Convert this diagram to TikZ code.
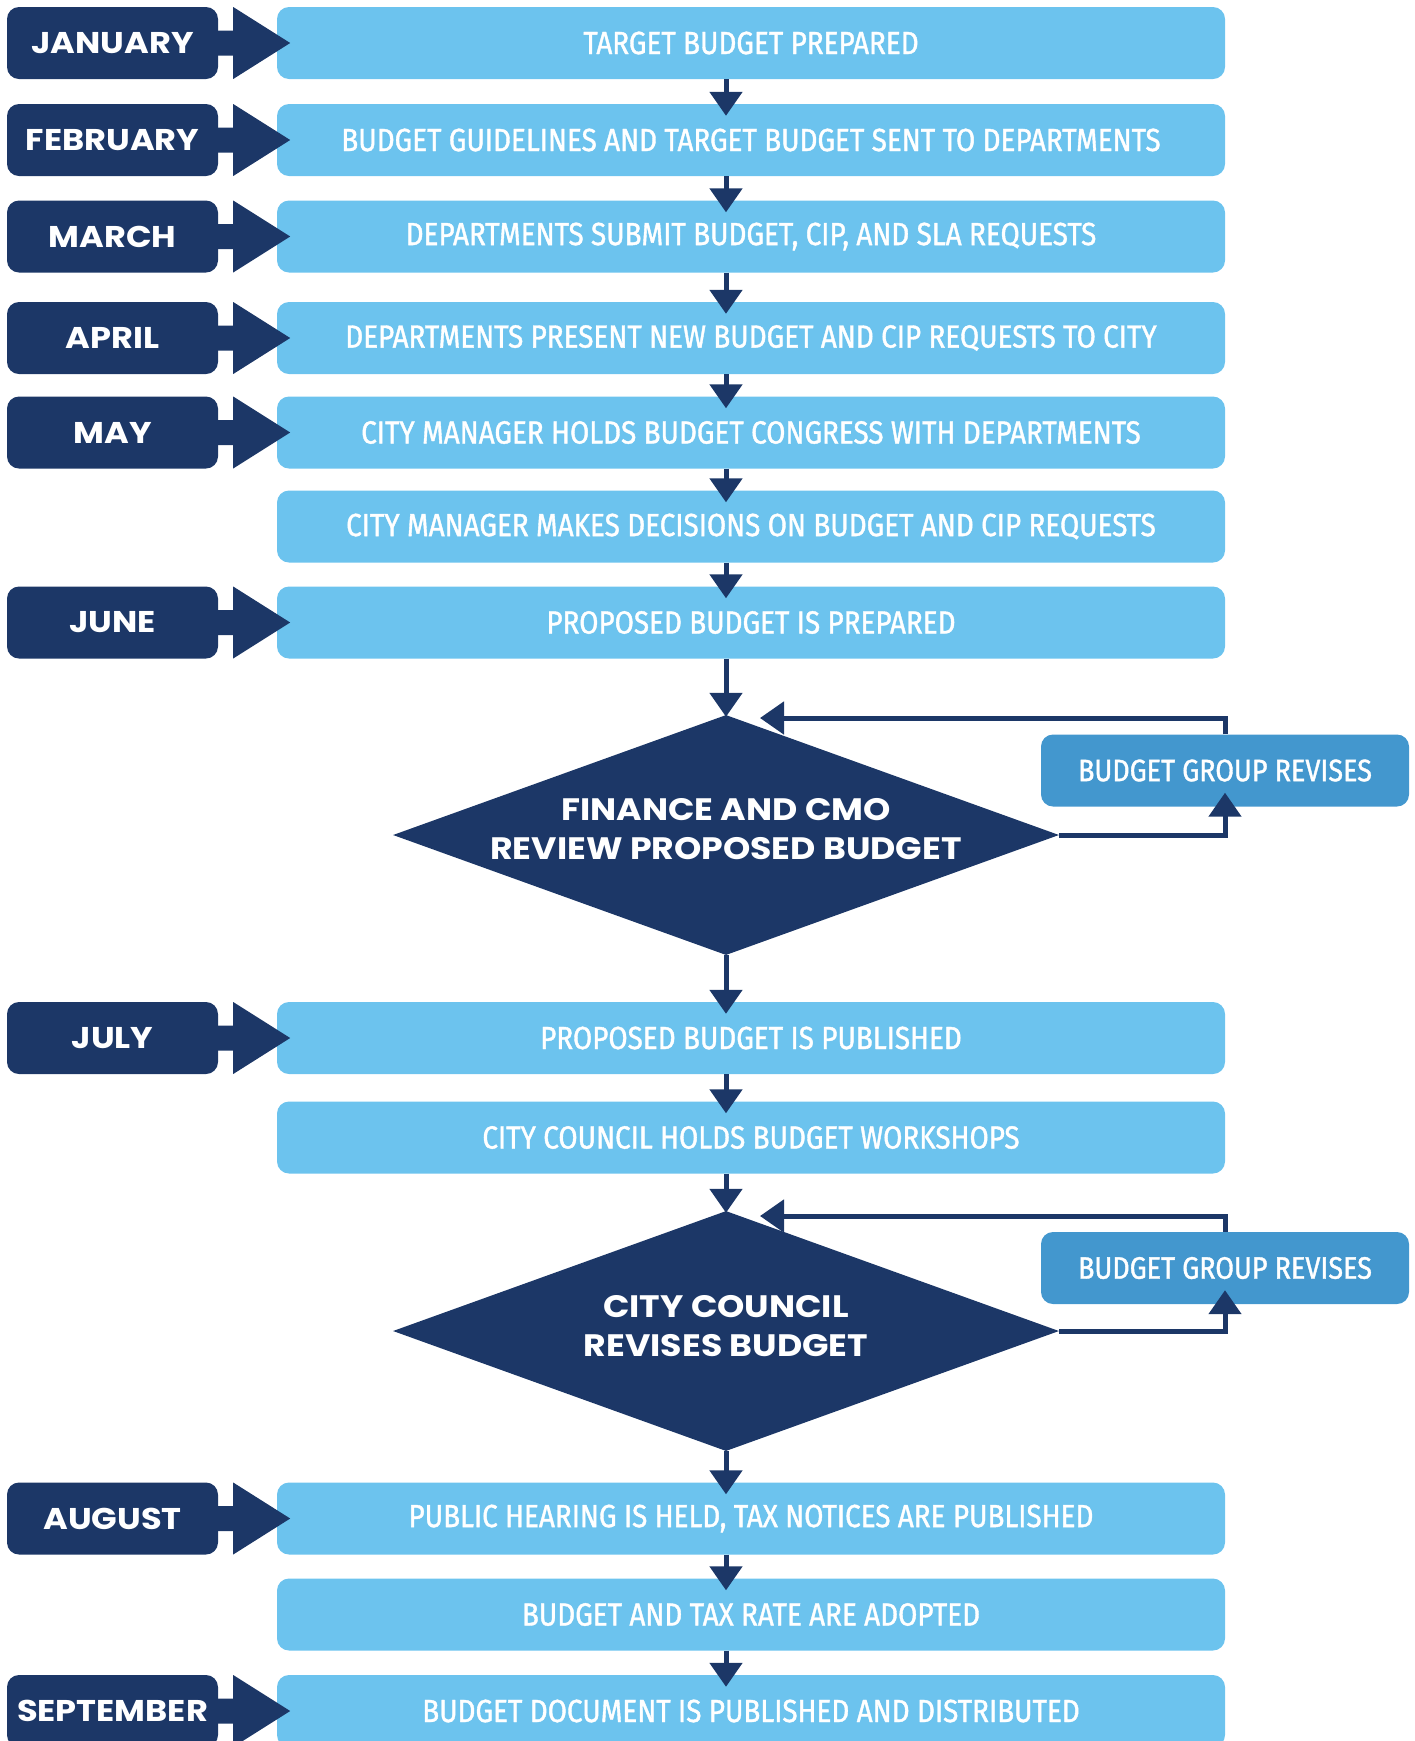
\documentclass[tikz,border=0pt]{standalone}
\usepackage{fontspec}
\usetikzlibrary{arrows.meta,calc,shapes.geometric}
\newfontfamily\monthfont[FakeStretch=1.12]{Poppins}
\newfontfamily\boxfont[FakeStretch=0.87,FakeBold=1.2]{Fira Sans}
\definecolor{navy}{RGB}{28,55,103}
\definecolor{lightb}{RGB}{108,195,238}
\definecolor{revb}{RGB}{67,151,206}
\tikzset{
  stepbox/.style={fill=lightb, rounded corners=12pt, minimum width=948pt, minimum height=72pt,
    inner sep=0pt, text=white, font=\boxfont\fontsize{32}{32}\selectfont},
  monthtag/.style={fill=navy, rounded corners=12pt, minimum width=211pt, minimum height=72pt,
    inner sep=0pt, text=white, font=\monthfont\bfseries\fontsize{30}{30}\selectfont},
  revbox/.style={fill=revb, rounded corners=12pt, minimum width=368pt, minimum height=72pt,
    inner sep=0pt, text=white, font=\boxfont\fontsize{31}{31}\selectfont},
  decision/.style={diamond, fill=navy, shape aspect=2.775, minimum width=666pt, minimum height=240pt,
    inner sep=0pt},
  dtext/.style={text=white, align=center, font=\monthfont\bfseries\fontsize{31}{39}\selectfont},
  conn/.style={draw=navy, line width=5pt, -{Triangle[length=24pt,width=32pt]}},
  monthgo/.style={fill=navy}
}
\newcommand\MonthTag[3]{%
  \node[monthtag] (#1) at (112.5,#2) {#3};
  \fill[monthgo] ($(#1.east)+(-2,-12.5)$) -- ++(17,0) -- ++(0,-23.5) -- ++(57,36) -- ++(-57,36)
     -- ++(0,-23.5) -- ++(-17,0) -- cycle;
}
\begin{document}
\begin{tikzpicture}[x=1pt,y=-1pt]
\useasboundingbox (0,0) rectangle (1415,1741);
\coordinate (ax) at (726,0);

% step boxes
\node[stepbox] (b1) at (751,43) {TARGET BUDGET PREPARED};
\node[stepbox] (b2) at (751,140) {BUDGET GUIDELINES AND TARGET BUDGET SENT TO DEPARTMENTS};
\node[stepbox] (b3) at (751,236.5) {DEPARTMENTS SUBMIT BUDGET, CIP, AND SLA REQUESTS};
\node[stepbox] (b4) at (751,338) {DEPARTMENTS PRESENT NEW BUDGET AND CIP REQUESTS TO CITY};
\node[stepbox] (b5) at (751,432.5) {CITY MANAGER HOLDS BUDGET CONGRESS WITH DEPARTMENTS};
\node[stepbox] (b6) at (751,526.5) {CITY MANAGER MAKES DECISIONS ON BUDGET AND CIP REQUESTS};
\node[stepbox] (b7) at (751,622.5) {PROPOSED BUDGET IS PREPARED};
\node[stepbox] (b8) at (751,1038) {PROPOSED BUDGET IS PUBLISHED};
\node[stepbox] (b9) at (751,1137.5) {CITY COUNCIL HOLDS BUDGET WORKSHOPS};
\node[stepbox] (b10) at (751,1518.5) {PUBLIC HEARING IS HELD, TAX NOTICES ARE PUBLISHED};
\node[stepbox] (b11) at (751,1614.5) {BUDGET AND TAX RATE ARE ADOPTED};
\node[stepbox] (b12) at (751,1711) {BUDGET DOCUMENT IS PUBLISHED AND DISTRIBUTED};

% month tags
\MonthTag{m1}{43}{JANUARY}
\MonthTag{m2}{140}{FEBRUARY}
\MonthTag{m3}{236.5}{MARCH}
\MonthTag{m4}{338}{APRIL}
\MonthTag{m5}{432.5}{MAY}
\MonthTag{m6}{622.5}{JUNE}
\MonthTag{m7}{1038}{JULY}
\MonthTag{m8}{1518.5}{AUGUST}
\MonthTag{m9}{1711}{SEPTEMBER}

% decisions
\node[decision] (d1) at (726,835) {};
\node[dtext] (d1t) at (726,829) {FINANCE AND CMO\\REVIEW PROPOSED BUDGET};
\node[decision] (d2) at (726,1331) {};
\node[dtext] (d2t) at (726,1326) {CITY COUNCIL\\REVISES BUDGET};

% revise boxes
\node[revbox] (r1) at (1225,770.5) {BUDGET GROUP REVISES};
\node[revbox] (r2) at (1225,1268) {BUDGET GROUP REVISES};
\coordinate (r1in) at (760,718);
\coordinate (r2in) at (760,1216);

% main connectors
\draw[conn] (b1.south -| ax) -- ($(b2.north -| ax)+(0,12)$);
\draw[conn] (b2.south -| ax) -- ($(b3.north -| ax)+(0,12)$);
\draw[conn] (b3.south -| ax) -- ($(b4.north -| ax)+(0,12)$);
\draw[conn] (b4.south -| ax) -- ($(b5.north -| ax)+(0,12)$);
\draw[conn] (b5.south -| ax) -- ($(b6.north -| ax)+(0,12)$);
\draw[conn] (b6.south -| ax) -- ($(b7.north -| ax)+(0,12)$);
\draw[conn] (b7.south -| ax) -- ($(d1.north)+(0,2)$);
\draw[conn] (d1.south) -- ($(b8.north -| ax)+(0,12)$);
\draw[conn] (b8.south -| ax) -- ($(b9.north -| ax)+(0,12)$);
\draw[conn] (b9.south -| ax) -- ($(d2.north)+(0,2)$);
\draw[conn] (d2.south) -- ($(b10.north -| ax)+(0,12)$);
\draw[conn] (b10.south -| ax) -- ($(b11.north -| ax)+(0,12)$);
\draw[conn] (b11.south -| ax) -- ($(b12.north -| ax)+(0,12)$);

% revision loops
\draw[conn] (d1.east) -| ($(r1.south)+(0,-14)$);
\draw[conn] (r1.north) |- (r1in);
\draw[conn] (d2.east) -| ($(r2.south)+(0,-14)$);
\draw[conn] (r2.north) |- (r2in);
\end{tikzpicture}
\end{document}
